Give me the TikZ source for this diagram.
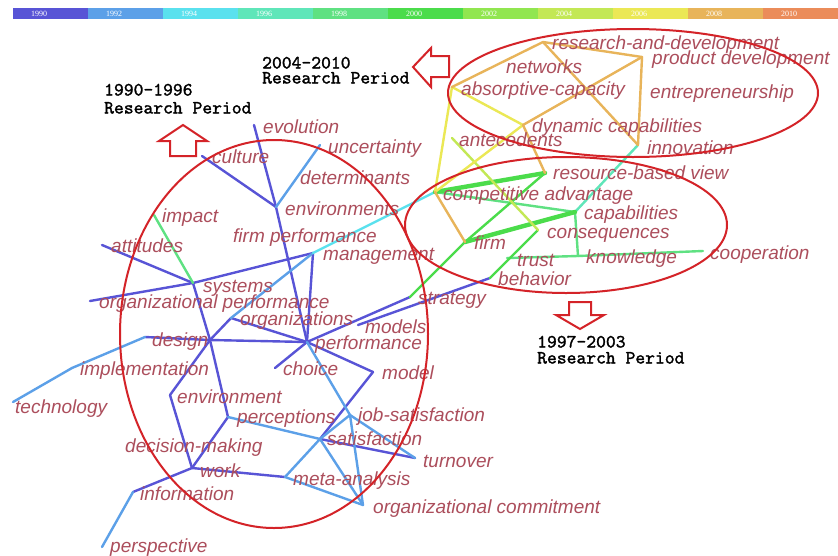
\documentclass[tikz,border=0pt]{standalone}
\usepackage{fontspec}
\newfontfamily\labfont{Liberation Sans}
\newfontfamily\perfont{lmmono10-regular.otf}[FakeBold=1.5]
\newfontfamily\barfont{Liberation Serif}
\definecolor{c1990}{RGB}{88,84,214}
\definecolor{c1992}{RGB}{92,160,232}
\definecolor{c1994}{RGB}{90,225,238}
\definecolor{c1996}{RGB}{95,230,185}
\definecolor{c1998}{RGB}{95,225,130}
\definecolor{c2000}{RGB}{75,220,75}
\definecolor{c2002}{RGB}{145,230,80}
\definecolor{c2004}{RGB}{195,232,85}
\definecolor{c2006}{RGB}{235,232,85}
\definecolor{c2008}{RGB}{232,180,90}
\definecolor{c2010}{RGB}{235,140,90}
\definecolor{lab}{RGB}{172,78,92}
\definecolor{ered}{RGB}{212,35,40}
\begin{document}
\begin{tikzpicture}[x=1pt,y=-1pt,
  lbl/.style={anchor=west,inner sep=0pt,text=lab,font=\labfont\itshape\fontsize{19}{19}\selectfont,text height=16pt,text depth=3.5pt},
  per/.style={anchor=west,inner sep=0pt,text=black,font=\perfont\fontsize{18.7}{18.7}\selectfont,text height=11pt,text depth=0pt},
  bartxt/.style={inner sep=0pt,text=white,font=\barfont\fontsize{8}{8}\selectfont},
  e/.style={line width=2.4pt,line cap=round,line join=round},
  ethick/.style={line width=4.4pt,line cap=round},
  ell/.style={draw=ered,line width=2pt},
  barrow/.style={draw=ered,line width=2pt,fill=white,line join=miter}]
\useasboundingbox (0,0) rectangle (838,555);
\fill[white] (0,0) rectangle (838,555);
% timeline bar
\foreach \i/\c/\yr in {0/c1990/1990,1/c1992/1992,2/c1994/1994,3/c1996/1996,4/c1998/1998,5/c2000/2000,6/c2002/2002,7/c2004/2004,8/c2006/2006,9/c2008/2008,10/c2010/2010}{
  \fill[\c] (13+75*\i,8) rectangle (88+75*\i,19);
  \node[bartxt] (yr\i) at (39+75*\i,13.5) {\yr};
}
% node points
\coordinate (evo) at (254,125);
\coordinate (cul) at (202,156);
\coordinate (unc) at (320,145);
\coordinate (envs) at (276,207);
\coordinate (imp) at (154,215);
\coordinate (att) at (102,245);
\coordinate (sys) at (193,283);
\coordinate (mgmt) at (313,253);
\coordinate (orgperf) at (90,301);
\coordinate (orgs) at (231,318);
\coordinate (j1) at (210,340);
\coordinate (des) at (145,337);
\coordinate (perf) at (307,342);
\coordinate (models) at (358,325);
\coordinate (choice) at (275,368);
\coordinate (model) at (373,372);
\coordinate (impl) at (72,368);
\coordinate (tech) at (13,402);
\coordinate (env) at (170,395);
\coordinate (perc) at (228,417);
\coordinate (jobsat) at (350,415);
\coordinate (sat) at (320,439);
\coordinate (turn) at (415,458);
\coordinate (work) at (192,468);
\coordinate (meta) at (285,477);
\coordinate (info) at (133,492);
\coordinate (orgcom) at (363,505);
\coordinate (persp) at (102,547);
\coordinate (rd) at (543,42);
\coordinate (pd) at (642,57);
\coordinate (ac) at (452,87);
\coordinate (dc) at (523,125);
\coordinate (ant) at (452,138);
\coordinate (inno) at (638,145);
\coordinate (rbv) at (545,173);
\coordinate (ca) at (435,192);
\coordinate (capab) at (575,212);
\coordinate (cons) at (538,230);
\coordinate (firm) at (465,242);
\coordinate (trust) at (507,258);
\coordinate (know) at (578,256);
\coordinate (coop) at (703,251);
\coordinate (beh) at (490,278);
\coordinate (strat) at (410,297);
% edges 1990
\foreach \a/\b in {evo/envs,cul/envs,envs/perf,att/sys,sys/mgmt,sys/orgperf,sys/j1,j1/perc,mgmt/perf,orgs/perf,orgs/j1,j1/env,j1/perf,des/j1,perf/choice,perf/model,perf/strat,models/beh,model/sat,sat/turn,perc/work,env/work,work/meta,work/info}
  \draw[e,c1990] (\a) -- (\b);
% edges 1992
\foreach \a/\b in {unc/envs,mgmt/orgs,des/impl,impl/tech,perf/jobsat,jobsat/orgcom,jobsat/turn,jobsat/sat,sat/perc,sat/meta,sat/orgcom,meta/orgcom,info/persp}
  \draw[e,c1992] (\a) -- (\b);
\draw[e,c1994] (mgmt) -- (ca);
\draw[e,c1998] (imp) -- (sys);
\foreach \a/\b in {ca/capab,capab/know,trust/know,know/coop}
  \draw[e,c1998] (\a) -- (\b);
\draw[e,c1996] (capab) -- (inno);
\foreach \a/\b in {firm/rbv,firm/strat,cons/beh}
  \draw[e,c2000] (\a) -- (\b);
\draw[ethick,c2000] (ca) -- (rbv);
\draw[ethick,c2000] (firm) -- (capab);
\draw[e,c2004] (ant) -- (cons);
\foreach \a/\b in {ac/dc,ac/ca,dc/ca}
  \draw[e,c2006] (\a) -- (\b);
\foreach \a/\b in {rd/pd,rd/ac,rd/inno,pd/inno,pd/dc,dc/rbv,ca/firm}
  \draw[e,c2008] (\a) -- (\b);
% labels
\node[lbl] (Levo) at (263,127) {evolution};
\node[lbl] (Lunc) at (328,147) {uncertainty};
\node[lbl] (Lcul) at (212,157) {culture};
\node[lbl] (Ldet) at (300,178) {determinants};
\node[lbl] (Lenvs) at (285,209) {environments};
\node[lbl] (Limp) at (162,216) {impact};
\node[lbl] (Lfp) at (233,236) {firm performance};
\node[lbl] (Latt) at (111,246) {attitudes};
\node[lbl] (Lmgmt) at (323,254) {management};
\node[lbl] (Lsys) at (203,286) {systems};
\node[lbl] (Lorgperf) at (99,302) {organizational performance};
\node[lbl] (Lorgs) at (240,319) {organizations};
\node[lbl] (Lmodels) at (365,327) {models};
\node[lbl] (Ldes) at (152,340) {design};
\node[lbl] (Lperf) at (315,343) {performance};
\node[lbl] (Limpl) at (80,369) {implementation};
\node[lbl] (Lchoice) at (283,369) {choice};
\node[lbl] (Lmodel) at (382,373) {model};
\node[lbl] (Ltech) at (15,407) {technology};
\node[lbl] (Lenv) at (177,397) {environment};
\node[lbl] (Lperc) at (237,417) {perceptions};
\node[lbl] (Ljobsat) at (358,415) {job-satisfaction};
\node[lbl] (Ldm) at (125,446) {decision-making};
\node[lbl] (Lsat) at (327,439) {satisfaction};
\node[lbl] (Lturn) at (423,461) {turnover};
\node[lbl] (Lwork) at (200,471) {work};
\node[lbl] (Lmeta) at (293,479) {meta-analysis};
\node[lbl] (Linfo) at (140,494) {information};
\node[lbl] (Lorgcom) at (373,507) {organizational commitment};
\node[lbl] (Lpersp) at (110,546) {perspective};
\node[lbl] (Lrd) at (552,43) {research-and-development};
\node[lbl] (Lpd) at (652,58) {product development};
\node[lbl] (Lnet) at (506,67) {networks};
\node[lbl] (Lac) at (461,89) {absorptive-capacity};
\node[lbl] (Lent) at (650,92) {entrepreneurship};
\node[lbl] (Ldc) at (532,126) {dynamic capabilities};
\node[lbl] (Lant) at (459,140) {antecedents};
\node[lbl] (Linno) at (647,148) {innovation};
\node[lbl] (Lrbv) at (553,173) {resource-based view};
\node[lbl] (Lca) at (443,194) {competitive advantage};
\node[lbl] (Lcapab) at (584,213) {capabilities};
\node[lbl] (Lcons) at (547,232) {consequences};
\node[lbl] (Lfirm) at (474,243) {firm};
\node[lbl] (Ltrust) at (517,260) {trust};
\node[lbl] (Lknow) at (586,257) {knowledge};
\node[lbl] (Lcoop) at (710,253) {cooperation};
\node[lbl] (Lbeh) at (498,279) {behavior};
\node[lbl] (Lstrat) at (418,298) {strategy};
% period labels
\node[per] (p1a) at (104,90) {1990–1996};
\node[per] (p1b) at (104,108) {Research Period};
\node[per] (p2a) at (262,63) {2004–2010};
\node[per] (p2b) at (262,78) {Research Period};
\node[per] (p3a) at (537,342) {1997–2003};
\node[per] (p3b) at (537,358) {Research Period};
% block arrows
\draw[barrow] (183,125) -- (207,141) -- (196,141) -- (196,156) -- (170,156) -- (170,141) -- (159,141) -- cycle;
\draw[barrow] (413,67) -- (431,48) -- (431,56) -- (449,56) -- (449,77) -- (431,77) -- (431,87) -- cycle;
\draw[barrow] (580,329) -- (604,315) -- (591,315) -- (591,302) -- (569,302) -- (569,315) -- (556,315) -- cycle;
% ellipses
\draw[ell] (274,334) ellipse [x radius=154, y radius=194];
\draw[ell] (633,93) ellipse [x radius=185, y radius=64];
\draw[ell] (566,225) ellipse [x radius=161, y radius=68];
\end{tikzpicture}
\end{document}
